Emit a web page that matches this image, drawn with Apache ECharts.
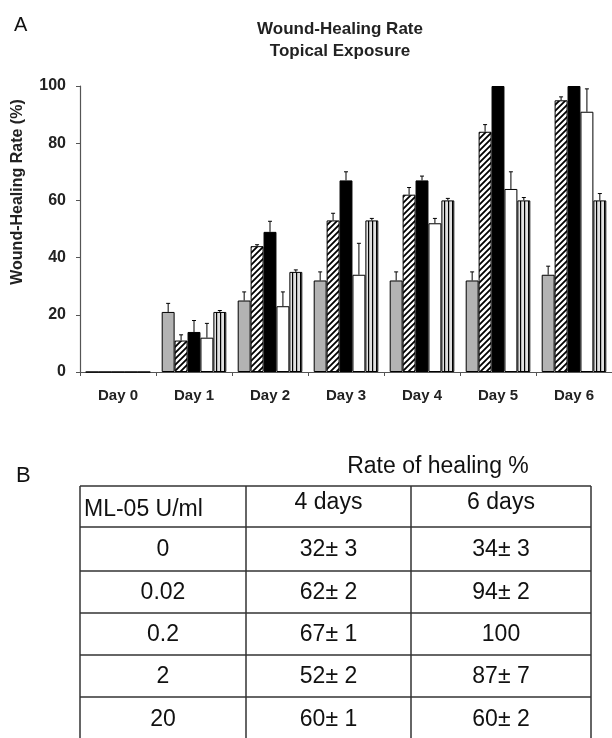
<!DOCTYPE html>
<html>
<head>
<meta charset="utf-8">
<script src="https://cdn.jsdelivr.net/npm/echarts@6/dist/echarts.min.js"></script>
<style>
  html, body { margin: 0; padding: 0; background: #fff; }
  #chart { width: 612px; height: 738px; }
</style>
</head>
<body>
<div id="chart"></div>
<script>
// ---- Data ----
const categories = ['Day 0', 'Day 1', 'Day 2', 'Day 3', 'Day 4', 'Day 5', 'Day 6'];
const seriesNames = ['0 U/ml', '0.02 U/ml', '0.2 U/ml', '2 U/ml', '20 U/ml'];
const dose0 = [0, 21, 25, 32, 32, 32, 34];
const dose0Err = [0, 3, 3, 3, 3, 3, 3];
const dose002 = [0, 11, 44, 53, 62, 84, 95];
const dose002Err = [0, 2, 0.5, 2.5, 2.5, 2.5, 1.2];
const dose02 = [0, 14, 49, 67, 67, 100, 100];
const dose02Err = [0, 4, 3.7, 3, 1.5, 0, 0];
const dose2 = [0, 12, 23, 34, 52, 64, 91];
const dose2Err = [0, 5, 5, 11, 1.7, 6, 8];
const dose20 = [0, 21, 35, 53, 60, 60, 60];
const dose20Err = [0, 0.5, 0.7, 0.7, 0.7, 1, 2.4];
const yTicks = [0, 20, 40, 60, 80, 100];

const tableHead = ['ML-05 U/ml', '4 days', '6 days'];
const tableDoses = ['0', '0.02', '0.2', '2', '20'];
const tableDay4 = ['32\u00b1 3', '62\u00b1 2', '67\u00b1 1', '52\u00b1 2', '60\u00b1 1'];
const tableDay6 = ['34\u00b1 3', '94\u00b1 2', '100', '87\u00b1 7', '60\u00b1 2'];

// ---- Patterns ----
function hatchPattern() {
  const c = document.createElement('canvas');
  c.width = 6; c.height = 6;
  const g = c.getContext('2d');
  g.fillStyle = '#fff'; g.fillRect(0, 0, 6, 6);
  g.strokeStyle = '#000'; g.lineWidth = 1.8;
  g.beginPath();
  g.moveTo(0, 6); g.lineTo(6, 0);
  g.moveTo(-1, 1); g.lineTo(1, -1);
  g.moveTo(5, 7); g.lineTo(7, 5);
  g.stroke();
  return { image: c, repeat: 'repeat' };
}
function stripePattern() {
  const c = document.createElement('canvas');
  c.width = 4; c.height = 4;
  const g = c.getContext('2d');
  g.fillStyle = '#e0e0e0'; g.fillRect(0, 0, 4, 4);
  g.fillStyle = '#000'; g.fillRect(0, 0, 1.2, 4);
  return { image: c, repeat: 'repeat' };
}

const FONT = "'Liberation Sans', Arial, sans-serif";
const GAP = 0.85; // 1 - barCategoryGap
const NS = 5;

const barValues = [dose0, dose002, dose02, dose2, dose20];
const errValues = [dose0Err, dose002Err, dose02Err, dose2Err, dose20Err];
const barColors = ['#b3b3b3', hatchPattern(), '#000', '#fff', stripePattern()];

const series = [];
barValues.forEach((vals, i) => {
  series.push({
    name: seriesNames[i],
    type: 'bar',
    data: vals,
    barGap: '0%',
    barCategoryGap: '15%',
    itemStyle: { color: barColors[i], borderColor: '#000', borderWidth: 1 },
    silent: true
  });
});
errValues.forEach((errs, i) => {
  series.push({
    type: 'custom',
    silent: true,
    z: 10,
    data: categories.map((c, j) => [j, barValues[i][j], errs[j]]),
    encode: { x: 0, y: 1 },
    renderItem: function (params, api) {
      const j = api.value(0), v = api.value(1), e = api.value(2);
      if (!e) return null;
      const bw = api.size([1, 0])[0];
      const base = api.coord([j, v]);
      const top = api.coord([j, v + e]);
      const barW = bw * GAP / NS;
      const x = base[0] - bw * GAP / 2 + (i + 0.5) * barW;
      const st = { stroke: '#000', lineWidth: 1 };
      return {
        type: 'group',
        children: [
          { type: 'line', shape: { x1: x, y1: base[1], x2: x, y2: top[1] }, style: st },
          { type: 'line', shape: { x1: x - 2, y1: top[1], x2: x + 2, y2: top[1] }, style: st }
        ]
      };
    }
  });
});

// ---- Table graphics ----
const colX = [80, 246, 411, 591];
const rowY = [486, 527, 571, 613, 655, 697, 740];
const tableGraphics = [];
const lineStyle = { stroke: '#333', lineWidth: 1.5 };
colX.forEach(x => tableGraphics.push({ type: 'line', shape: { x1: x, y1: rowY[0], x2: x, y2: rowY[rowY.length - 1] }, style: lineStyle }));
rowY.forEach(y => tableGraphics.push({ type: 'line', shape: { x1: colX[0], y1: y, x2: colX[3], y2: y }, style: lineStyle }));
const tFont = { fontFamily: FONT, fontSize: 23, fill: '#111', textVerticalAlign: 'middle' };
tableGraphics.push({ type: 'text', x: colX[0] + 4, y: 510, style: Object.assign({ text: tableHead[0], textAlign: 'left' }, tFont) });
tableGraphics.push({ type: 'text', x: (colX[1] + colX[2]) / 2, y: 503, style: Object.assign({ text: tableHead[1], textAlign: 'center' }, tFont) });
tableGraphics.push({ type: 'text', x: (colX[2] + colX[3]) / 2, y: 503, style: Object.assign({ text: tableHead[2], textAlign: 'center' }, tFont) });
tableDoses.forEach((d, r) => {
  const cy = (rowY[r + 1] + rowY[r + 2]) / 2 + 1;
  tableGraphics.push({ type: 'text', x: (colX[0] + colX[1]) / 2, y: cy, style: Object.assign({ text: d, textAlign: 'center' }, tFont) });
  tableGraphics.push({ type: 'text', x: (colX[1] + colX[2]) / 2, y: cy, style: Object.assign({ text: tableDay4[r], textAlign: 'center' }, tFont) });
  tableGraphics.push({ type: 'text', x: (colX[2] + colX[3]) / 2, y: cy, style: Object.assign({ text: tableDay6[r], textAlign: 'center' }, tFont) });
});

const chart = echarts.init(document.getElementById('chart'), null, { renderer: 'canvas' });
chart.setOption({
  animation: false,
  backgroundColor: '#fff',
  grid: { left: 80, top: 86, width: 534, height: 286, containLabel: false },
  xAxis: {
    type: 'category',
    data: categories,
    boundaryGap: true,
    axisLine: { lineStyle: { color: '#555', width: 1.2 } },
    axisTick: { show: true, length: 4, lineStyle: { color: '#555' } },
    axisLabel: { color: '#222', fontFamily: FONT, fontWeight: 'bold', fontSize: 15, margin: 16 }
  },
  yAxis: {
    type: 'value',
    min: 0, max: 100, interval: 20,
    splitLine: { show: false },
    axisLine: { show: true, lineStyle: { color: '#555', width: 1.2 } },
    axisTick: { show: true, length: 4, lineStyle: { color: '#555' } },
    axisLabel: { color: '#222', fontFamily: FONT, fontWeight: 'bold', fontSize: 16, margin: 14,
      formatter: v => yTicks.indexOf(v) >= 0 ? String(v) : '' }
  },
  series: series,
  graphic: [
    { type: 'text', x: 14, y: 25, style: { text: 'A', fontFamily: FONT, fontSize: 20, fill: '#111', textVerticalAlign: 'middle' } },
    { type: 'text', x: 340, y: 29, style: { text: 'Wound-Healing Rate', fontFamily: FONT, fontWeight: 'bold', fontSize: 17, fill: '#222', textAlign: 'center', textVerticalAlign: 'middle' } },
    { type: 'text', x: 340, y: 51, style: { text: 'Topical Exposure', fontFamily: FONT, fontWeight: 'bold', fontSize: 17, fill: '#222', textAlign: 'center', textVerticalAlign: 'middle' } },
    { type: 'text', x: 18, y: 192, rotation: Math.PI / 2, style: { text: 'Wound-Healing Rate (%)', fontFamily: FONT, fontWeight: 'bold', fontSize: 16, fill: '#222', textAlign: 'center', textVerticalAlign: 'middle' } },
    { type: 'text', x: 16, y: 476, style: { text: 'B', fontFamily: FONT, fontSize: 22, fill: '#111', textVerticalAlign: 'middle' } },
    { type: 'text', x: 438, y: 467, style: { text: 'Rate of healing %', fontFamily: FONT, fontSize: 23, fill: '#111', textAlign: 'center', textVerticalAlign: 'middle' } }
  ].concat(tableGraphics)
});
</script>
</body>
</html>
